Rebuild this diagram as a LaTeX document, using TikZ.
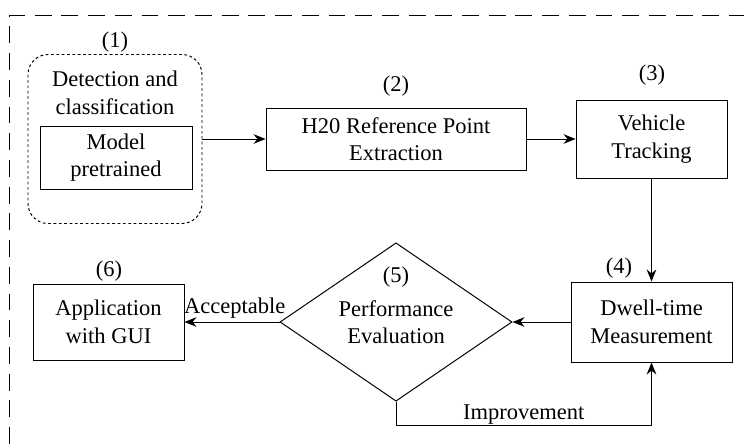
\documentclass[tikz,border=0pt]{standalone}
\usepackage{fontspec}
\setmainfont{Liberation Serif}
\usetikzlibrary{arrows.meta,shapes.geometric}

\begin{document}
\begin{tikzpicture}[
  font=\fontsize{16}{19.5}\selectfont,
  every node/.style={align=center},
  stepbox/.style={draw, line width=0.7pt, inner sep=0pt},
  arr/.style={-{Stealth[length=3mm,width=2.4mm]}, line width=0.7pt}
]
\useasboundingbox (0,0) rectangle (18.6,11.1);

% frame round the whole pipeline
\draw[dash pattern=on 12pt off 7pt, line width=0.7pt] (0.24,0) -- (0.24,10.725) -- (18.6,10.725);

% (1) detection block
\node[draw, dash pattern=on 2pt off 1.8pt, line width=0.7pt, rounded corners=0.5cm, minimum width=4.35cm, minimum height=4.225cm] (detect) at (2.875,7.625) {};
\node (detecttxt) at (2.875,8.775) {Detection and\\classification};
\node[stepbox, minimum width=3.8cm, minimum height=1.575cm] (model) at (2.9,7.1625) {Model\\pretrained};
\node (n1) at (2.875,10.05) {(1)};

% (2) and (3)
\node[stepbox, minimum width=6.5cm, minimum height=1.55cm] (extract) at (9.9,7.625) {H20 Reference Point\\Extraction};
\node (n2) at (9.9,8.95) {(2)};
\node[stepbox, minimum width=3.775cm, minimum height=1.95cm] (track) at (16.2875,7.625) {Vehicle\\Tracking};
\node (n3) at (16.3,9.225) {(3)};

% (4), (5) and (6)
\node[stepbox, minimum width=4.025cm, minimum height=2cm] (dwell) at (16.2875,3.05) {Dwell-time\\Measurement};
\node (n4) at (15.475,4.4) {(4)};
\node[draw, diamond, line width=0.7pt, inner sep=0pt, minimum width=5.8cm, minimum height=3.85cm] (eval) at (9.9,3.05) {Performance\\Evaluation};
\node (n5) at (9.9,4.175) {(5)};
\node[stepbox, minimum width=3.775cm, minimum height=1.9cm] (app) at (2.7125,3.05) {Application\\with GUI};
\node (n6) at (2.725,4.325) {(6)};

% connectors
\draw[arr] (detect.east) -- (extract.west);
\draw[arr] (extract.east) -- (track.west);
\draw[arr] (track.south) -- (dwell.north);
\draw[arr] (dwell.west) -- (eval.east);
\draw[arr] (eval.west) -- node[above, inner sep=2pt, xshift=2pt] {Acceptable} (app.east);
\draw[arr] (eval.south) -- ++(0,-0.6) -| node[pos=0.25, above, inner sep=1pt] {Improvement} (dwell.south);
\end{tikzpicture}
\end{document}
